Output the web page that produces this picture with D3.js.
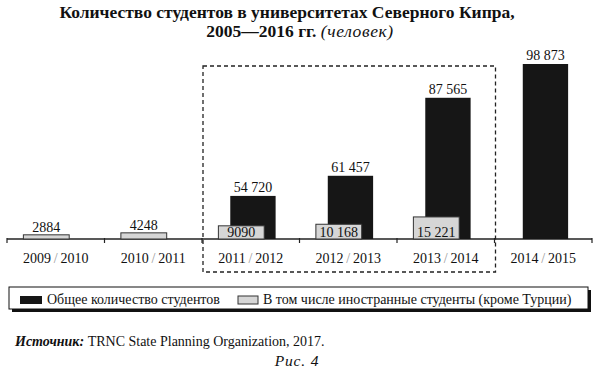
<!DOCTYPE html>
<html><head><meta charset="utf-8">
<script src="https://cdn.jsdelivr.net/npm/d3@7"></script>
<style>
html,body{margin:0;padding:0;background:#fff;}
svg{display:block;font-family:"Liberation Serif","DejaVu Serif",serif;}
</style></head>
<body><svg id="c" width="595" height="379"></svg>
<script>
const categories = ["2009/2010","2010/2011","2011/2012","2012/2013","2013/2014","2014/2015"];
const totalStudents = [null, null, 54720, 61457, 87565, 98873];
const foreignStudents = [2884, 4248, 9090, 10168, 15221, null];
const highlighted = ["2011/2012","2012/2013","2013/2014"];
const titleLine1 = "Количество студентов в университетах Северного Кипра,";
const titleLine2 = "2005—2016 гг.";
const titleUnit = "(человек)";
const legendLabels = ["Общее количество студентов","В том числе иностранные студенты (кроме Турции)"];
const sourceLabel = "Источник:";
const sourceText = " TRNC State Planning Organization, 2017.";
const figLabel = "Рис. 4";

const svg = d3.select("#c");
const baseY = 239;
const x = d3.scaleBand().domain(categories).range([7, 592]);
const bw = x.bandwidth();
// the original chart is not drawn to a common scale: totals start from a cut-off base
const yTotal = d3.scaleLinear().domain([40300, 98873]).range([baseY, 64]);
const yForeign = d3.scaleLinear().domain([0, 120000]).range([baseY, baseY - 174]);

const loc = d3.formatLocale({decimal:",", thousands:"\u00a0", grouping:[3], currency:["",""]});
const fmt = v => v >= 10000 ? loc.format(",")(v) : String(v);

// title
svg.append("text").attr("x", 287).attr("y", 18).attr("text-anchor","middle")
  .attr("font-size", 17.5).attr("font-weight","bold").attr("fill","#111").text(titleLine1);
const t2 = svg.append("text").attr("x", 300).attr("y", 37).attr("text-anchor","middle")
  .attr("font-size", 17.5).attr("fill","#111");
t2.append("tspan").attr("font-weight","bold").text(titleLine2 + " ");
t2.append("tspan").attr("font-style","italic").attr("letter-spacing",0.6).text(titleUnit);

// dashed highlight box
const hx0 = x(highlighted[0]) + 1, hx1 = x(highlighted[highlighted.length-1]) + bw + 1;
svg.append("rect").attr("x", hx0).attr("y", 66).attr("width", hx1 - hx0).attr("height", 206)
  .attr("fill","none").attr("stroke","#222").attr("stroke-width",1.3).attr("stroke-dasharray","4,3");

// axis line + boundary ticks
svg.append("line").attr("x1", x.range()[0]).attr("x2", x.range()[1]).attr("y1", baseY).attr("y2", baseY)
  .attr("stroke","#222").attr("stroke-width",1.3);
const bounds = categories.map(c => x(c)).concat([x.range()[1]]);
svg.selectAll(".tk").data(bounds).join("line").attr("class","tk")
  .attr("x1", d => d).attr("x2", d => d).attr("y1", baseY - 1).attr("y2", baseY + 4)
  .attr("stroke","#222").attr("stroke-width",1.2);

const rows = categories.map((c,i) => ({c, total: totalStudents[i], foreign: foreignStudents[i]}));

// total bars
const tb = rows.filter(d => d.total != null);
svg.selectAll(".tb").data(tb).join("rect").attr("class","tb")
  .attr("x", d => x(d.c) + bw*0.29).attr("width", bw*0.465)
  .attr("y", d => yTotal(d.total)).attr("height", d => baseY - yTotal(d.total))
  .attr("fill","#161616");
svg.selectAll(".tl").data(tb).join("text").attr("class","tl")
  .attr("x", d => x(d.c) + bw*0.29 + bw*0.465/2).attr("y", d => yTotal(d.total) - 4)
  .attr("text-anchor","middle").attr("font-size",14).attr("fill","#111").text(d => fmt(d.total));

// foreign bars
const fb = rows.filter(d => d.foreign != null);
svg.selectAll(".fb").data(fb).join("rect").attr("class","fb")
  .attr("x", d => x(d.c) + bw*0.168).attr("width", bw*0.47)
  .attr("y", d => yForeign(d.foreign)).attr("height", d => baseY - yForeign(d.foreign))
  .attr("fill","#d6d6d6").attr("stroke","#333").attr("stroke-width",1);
svg.selectAll(".fl").data(fb).join("text").attr("class","fl")
  .attr("x", d => x(d.c) + bw*0.168 + bw*0.47/2)
  .attr("y", d => (baseY - yForeign(d.foreign)) > 10 ? baseY - 2 : yForeign(d.foreign) - 3)
  .attr("text-anchor","middle").attr("font-size",14).attr("fill","#111").text(d => fmt(d.foreign));

// category labels
const cl = svg.selectAll(".cl").data(categories).join("text").attr("class","cl")
  .attr("x", d => x(d) + bw/2).attr("y", 263).attr("text-anchor","middle").attr("font-size",14).attr("fill","#111");
cl.each(function(d){
  const p = d.split("/");
  const s = d3.select(this);
  s.append("tspan").text(p[0] + "\u2009");
  s.append("tspan").attr("fill","#999").text("/");
  s.append("tspan").text("\u2009" + p[1]);
});

// legend
svg.append("rect").attr("x", 12).attr("y", 290).attr("width", 579).attr("height", 22).attr("fill","#111");
svg.append("rect").attr("x", 9).attr("y", 287).attr("width", 579).attr("height", 22).attr("fill","#fff")
  .attr("stroke","#111").attr("stroke-width",1);
svg.append("rect").attr("x", 20).attr("y", 296).attr("width", 22).attr("height", 8).attr("fill","#161616");
svg.append("text").attr("x", 47).attr("y", 304).attr("font-size", 14).attr("fill","#111").text(legendLabels[0]);
svg.append("rect").attr("x", 238).attr("y", 296).attr("width", 20).attr("height", 8).attr("fill","#d6d6d6")
  .attr("stroke","#333").attr("stroke-width",1);
svg.append("text").attr("x", 263).attr("y", 304).attr("font-size", 14).attr("fill","#111").text(legendLabels[1]);

// source
const src = svg.append("text").attr("x", 15).attr("y", 346).attr("font-size", 14).attr("fill","#111");
src.append("tspan").attr("font-style","italic").attr("font-weight","bold").text(sourceLabel);
src.append("tspan").text(sourceText);
svg.append("text").attr("x", 297).attr("y", 366).attr("text-anchor","middle").attr("font-size", 15.5)
  .attr("font-style","italic").attr("letter-spacing",0.8).attr("fill","#111").text(figLabel);
</script></body></html>
